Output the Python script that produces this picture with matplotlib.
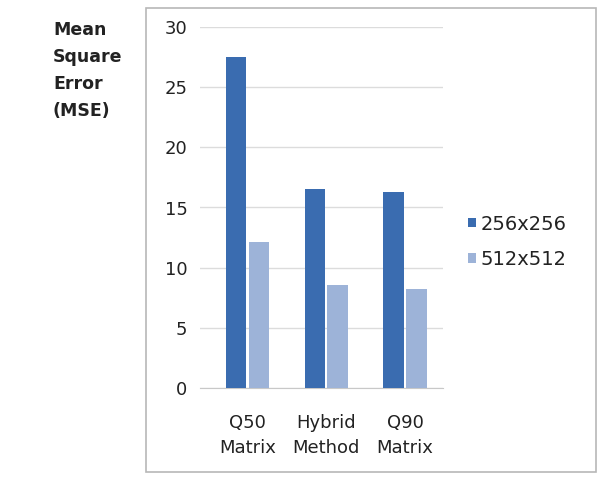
import matplotlib.pyplot as plt
import numpy as np
from matplotlib.patches import Rectangle

categories = ["Q50\nMatrix", "Hybrid\nMethod", "Q90\nMatrix"]
series_names = ["256x256", "512x512"]
mse_256 = [27.5, 16.5, 16.3]
mse_512 = [12.1, 8.6, 8.2]
y_ticks = [0, 5, 10, 15, 20, 25, 30]

dark = "#3a6cb0"
light = "#9db3d8"
txt = "#222222"

fig = plt.figure(figsize=(6.01, 4.86), dpi=100)

# outer chart frame
fig.patches.append(Rectangle((146 / 601, 1 - 472 / 486), 450 / 601, 464 / 486,
                             transform=fig.transFigure, fill=False,
                             edgecolor="#b8b8b8", linewidth=1.2))

ax = fig.add_axes([200 / 601, 1 - 388 / 486, 243 / 601, 361 / 486])
x = np.arange(len(categories))
w = 0.26
ax.bar(x - 0.145, mse_256, w, color=dark, label=series_names[0], zorder=3)
ax.bar(x + 0.145, mse_512, w, color=light, label=series_names[1], zorder=3)

ax.set_ylim(0, 30)
ax.set_xlim(-0.6, 2.48)
ax.set_yticks(y_ticks)
ax.set_xticks(x)
ax.set_xticklabels(categories, fontsize=13, linespacing=1.5, color=txt)
ax.tick_params(axis="y", labelsize=13, length=0, pad=9, labelcolor=txt)
ax.tick_params(axis="x", length=0, pad=19)
ax.grid(axis="y", color="#dcdcdc", linewidth=1, zorder=0)
for side in ["top", "right", "left"]:
    ax.spines[side].set_visible(False)
ax.spines["bottom"].set_color("#c8c8c8")

fig.text(53 / 601, 1 - 21 / 486, "Mean\nSquare\nError\n(MSE)", fontsize=12.5,
         fontweight="bold", va="top", ha="left", linespacing=1.65, color=txt)

leg = ax.legend(loc="center left", bbox_to_anchor=(1.03, 0.405), frameon=False,
                fontsize=14, handlelength=0.4, handleheight=0.4,
                handletextpad=0.25, labelspacing=0.85)
for t in leg.get_texts():
    t.set_color(txt)

fig.savefig("out.png", dpi=100)
